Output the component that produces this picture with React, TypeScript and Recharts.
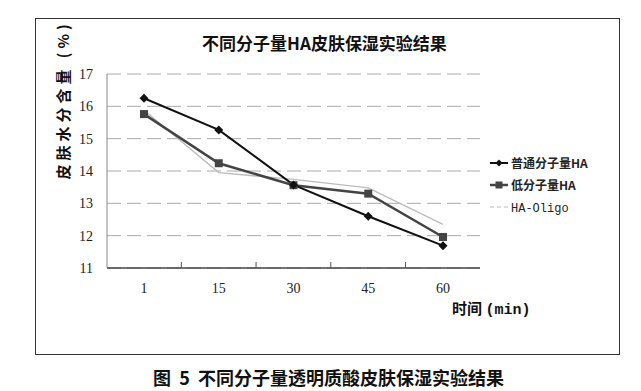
import { LineChart, Line, XAxis, YAxis, CartesianGrid } from 'recharts';

const TIMES = ['1', '15', '30', '45', '60'];
const NORMAL_HA = [16.25, 15.27, 13.57, 12.6, 11.69];
const LOW_HA = [15.76, 14.24, 13.56, 13.3, 11.96];
const OLIGO_HA = [15.88, 13.95, 13.74, 13.48, 12.35];
const Y_TICKS = [11, 12, 13, 14, 15, 16, 17];
const NAMES = ['普通分子量HA', '低分子量HA', 'HA-Oligo'];

const data = TIMES.map((t, i) => ({
  t,
  normal: NORMAL_HA[i],
  low: LOW_HA[i],
  oligo: OLIGO_HA[i],
}));

const SERIF = '"Liberation Serif", "DejaVu Serif", serif';
const CJK = '"Noto Sans CJK SC", sans-serif';
const MONO = '"Liberation Mono", monospace';

const Diamond = (props: any) => {
  const { cx, cy } = props;
  if (cx == null || cy == null) return null;
  return <polygon key={`d-${cx}`} points={`${cx},${cy - 4.5} ${cx + 4.5},${cy} ${cx},${cy + 4.5} ${cx - 4.5},${cy}`} fill="#111" />;
};

const Square = (props: any) => {
  const { cx, cy } = props;
  if (cx == null || cy == null) return null;
  return <rect key={`s-${cx}`} x={cx - 4} y={cy - 4} width={8} height={8} fill="#444" />;
};

// Excel-style x tick: label under the category, small tick mark on the right boundary
const XTick = (props: any) => {
  const { x, y, payload, index } = props;
  const half = 37.3;
  return (
    <g>
      {index < TIMES.length - 1 && (
        <line x1={x + half} x2={x + half} y1={y - 14} y2={y - 8} stroke="#555" />
      )}
      <text x={x} y={y + 17} textAnchor="middle" fontFamily={SERIF} fontSize={14} fill="#222">
        {payload.value}
      </text>
    </g>
  );
};

const LegendBox = () => {
  const rows = [
    { name: NAMES[0], color: '#111', w: 2, mark: 'diamond' },
    { name: NAMES[1], color: '#444', w: 2.5, mark: 'square' },
    { name: NAMES[2], color: '#bbb', w: 1.2, mark: 'none' },
  ];
  return (
    <svg width={130} height={70}>
      {rows.map((r, i) => {
        const y = 8 + i * 22;
        return (
          <g key={r.name}>
            <line x1={2} x2={20} y1={y} y2={y} stroke={r.color} strokeWidth={r.w} strokeDasharray={r.mark === 'none' ? '4 3' : undefined} />
            {r.mark === 'diamond' && <polygon points={`11,${y - 3.5} 14.5,${y} 11,${y + 3.5} 7.5,${y}`} fill={r.color} />}
            {r.mark === 'square' && <rect x={7.5} y={y - 3.5} width={7} height={7} fill={r.color} />}
            <text x={23} y={y + 4.5} fontSize={12} fontFamily={r.mark === 'none' ? MONO : CJK} fontWeight={r.mark === 'none' ? 400 : 700} fill="#222">
              {r.name}
            </text>
          </g>
        );
      })}
    </svg>
  );
};

export default function App() {
  return (
    <div style={{ position: 'fixed', left: 0, top: 0, width: 641, height: 391, background: '#fff', overflow: 'hidden' }}>
      <div style={{ position: 'absolute', left: 35, top: 18, width: 583, height: 335, border: '1.5px solid #333' }} />
      <div style={{ position: 'absolute', left: 4, width: 641, top: 30, textAlign: 'center', fontFamily: CJK, fontWeight: 700, fontSize: 17, color: '#111' }}>
        不同分子量HA皮肤保湿实验结果
      </div>
      <div
        style={{
          position: 'absolute',
          left: 62,
          top: 100,
          transform: 'translate(-50%, -50%) rotate(-90deg)',
          whiteSpace: 'nowrap',
          fontFamily: CJK,
          fontWeight: 700,
          fontSize: 15,
          color: '#111',
          letterSpacing: 4,
        }}
      >
        皮肤水分含量 (%)
      </div>
      <div style={{ position: 'absolute', left: 452, top: 297, fontFamily: CJK, fontWeight: 700, fontSize: 15, color: '#111', whiteSpace: 'nowrap' }}>
        时间 <span style={{ fontFamily: MONO }}>(min)</span>
      </div>
      <div style={{ position: 'absolute', left: 8, width: 641, top: 364, textAlign: 'center', fontFamily: CJK, fontWeight: 700, fontSize: 18, color: '#111', whiteSpace: 'pre' }}>
        {'图  5  不同分子量透明质酸皮肤保湿实验结果'}
      </div>
      <div style={{ position: 'absolute', left: 0, top: 0 }}>
        <LineChart width={641} height={391} data={data} margin={{ top: 74, right: 161, bottom: 93, left: 67 }}>
          <CartesianGrid vertical={false} stroke="#aaa" strokeDasharray="14 6" />
          <XAxis
            dataKey="t"
            height={30}
            padding={{ left: 37, right: 37 }}
            tick={<XTick />}
            tickLine={false}
            interval={0}
            axisLine={{ stroke: '#444', strokeWidth: 1.5 }}
          />
          <YAxis
            width={40}
            domain={[11, 17]}
            ticks={Y_TICKS}
            interval={0}
            tickLine={false}
            axisLine={{ stroke: '#888' }}
            tick={{ fontFamily: SERIF, fontSize: 14, fill: '#222' }}
            tickMargin={8}
          />
          <Line dataKey="oligo" name={NAMES[2]} stroke="#bbb" strokeWidth={1.3} dot={false} isAnimationActive={false} />
          <Line dataKey="low" name={NAMES[1]} stroke="#444" strokeWidth={2.5} dot={<Square />} isAnimationActive={false} />
          <Line dataKey="normal" name={NAMES[0]} stroke="#111" strokeWidth={2} dot={<Diamond />} isAnimationActive={false} />
        </LineChart>
      </div>
      <div style={{ position: 'absolute', left: 488, top: 155 }}>
        <LegendBox />
      </div>
    </div>
  );
}
